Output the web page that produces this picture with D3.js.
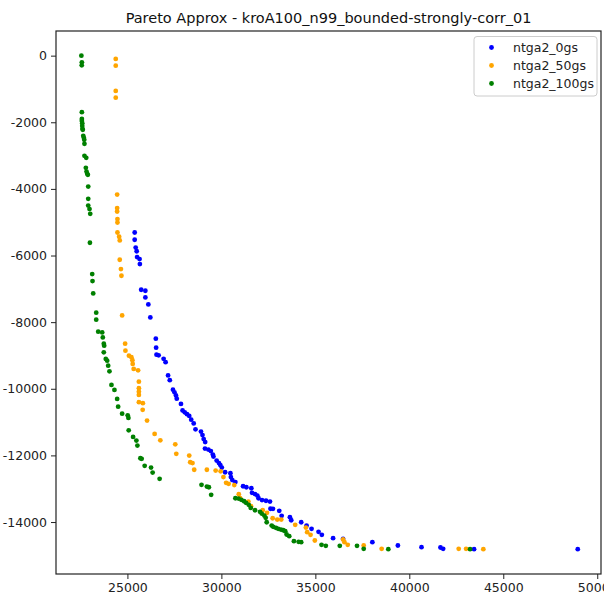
<!DOCTYPE html>
<html>
<head>
<meta charset="UTF-8">
<script src="https://cdn.jsdelivr.net/npm/d3@7"></script>
<style>
  body { margin: 0; background: #fff; }
  text { font-family: "DejaVu Sans", sans-serif; }
</style>
</head>
<body>
<div id="chart"></div>
<script>
// series values: [cost, -profit]
var seriesNames = ["ntga2_0gs", "ntga2_50gs", "ntga2_100gs"];
var seriesColors = ["#0000ff", "#ffa500", "#008000"];

var ntga2_0gs = [
  [25387,-5308],[25387,-5527],[25440,-5761],[25493,-5872],[25515,-6046],[25647,-6106],[25663,-6256],
  [25732,-7027],[25955,-7057],[25955,-7258],[26114,-7468],[26220,-7857],[26512,-8496],[26528,-8766],
  [26549,-8976],[26660,-8997],[26926,-9102],[27032,-9201],[27164,-9600],[27255,-9741],[27424,-10026],
  [27504,-10107],[27583,-10200],[27626,-10296],[27849,-10455],[27934,-10650],[28050,-10707],[28172,-10761],
  [28289,-10815],[28395,-10926],[28528,-11040],[28623,-11217],[28915,-11285],[28995,-11390],[29058,-11510],
  [29138,-11600],[29127,-11795],[29307,-11825],[29440,-11870],[29546,-11975],[29578,-12035],[29748,-12155],
  [29870,-12230],[29944,-12290],[30024,-12365],[30199,-12506],[30480,-12533],[30506,-12650],[30581,-12740],
  [30745,-12800],[31154,-12926],[31329,-12956],[31594,-12986],[31631,-13124],[31790,-13160],[31912,-13205],
  [31976,-13286],[32162,-13340],[32374,-13361],[32586,-13385],[32612,-13601],[32745,-13604],[33079,-13664],
  [33207,-13814],[33647,-13856],[33716,-13946],[34247,-14006],[34533,-14105],[34798,-14204],[35170,-14294],
  [35345,-14384],[35944,-14486],[36475,-14504],[38034,-14606],[39392,-14705],[40649,-14756],[41658,-14765],
  [41801,-14803],[43446,-14815],[48963,-14815]
];

var ntga2_50gs = [
  [24379,-99],[24379,-300],[24379,-1059],[24379,-1260],[24454,-4169],[24454,-4577],[24454,-4679],
  [24470,-4906],[24470,-5008],[24470,-5308],[24560,-5437],[24592,-5548],[24592,-6127],[24655,-6406],
  [24682,-6607],[24719,-7797],[24878,-8646],[24894,-8856],[25080,-9006],[25212,-9051],[25265,-9141],
  [25281,-9255],[25334,-9405],[25568,-9447],[25610,-9786],[25610,-9981],[25610,-10086],[25610,-10185],
  [25610,-10401],[25822,-10431],[25812,-10632],[26045,-10955],[26448,-11354],[26751,-11546],[27546,-11666],
  [27600,-11954],[28289,-12005],[28342,-12206],[28464,-12230],[28554,-12431],[29228,-12431],[29695,-12455],
  [29960,-12479],[30109,-12650],[30252,-12824],[30385,-12854],[30687,-12890],[30926,-13166],[30995,-13286],
  [31435,-13385],[31578,-13526],[32199,-13646],[32427,-13724],[32729,-13886],[32973,-13925],[33186,-13925],
  [33928,-14084],[34496,-14165],[34565,-14305],[34745,-14383],[34973,-14555],[36475,-14525],[36549,-14606],
  [36724,-14684],[37573,-14705],[38528,-14803],[42628,-14803],[43021,-14803],[43939,-14815]
];

var ntga2_100gs = [
  [22550,0],[22576,-200],[22570,-290],[22576,-1697],[22576,-1898],[22576,-1958],[22597,-2027],
  [22597,-2108],[22608,-2198],[22624,-2228],[22650,-2408],[22682,-2468],[22703,-2528],[22714,-2648],
  [22714,-3008],[22809,-3068],[22788,-3368],[22825,-3479],[22862,-3548],[22894,-3578],[22915,-3929],
  [22915,-4298],[22915,-4499],[22984,-4607],[23021,-4747],[23005,-5617],[23127,-6556],[23143,-6766],
  [23180,-7138],[23340,-7716],[23340,-7926],[23446,-8286],[23658,-8307],[23690,-8457],[23743,-8646],
  [23764,-8706],[23743,-8907],[23849,-9105],[23923,-9156],[23976,-9306],[24045,-9477],[24151,-9885],
  [24310,-10035],[24454,-10305],[24507,-10536],[24719,-10746],[25016,-10797],[25053,-10875],[25069,-11247],
  [25302,-11444],[25477,-11555],[25531,-11705],[25690,-12086],[25759,-12104],[25918,-12314],[26257,-12365],
  [26342,-12515],[26714,-12704],[28942,-12884],[29228,-12935],[29334,-12956],[29456,-13184],[30745,-13286],
  [30915,-13295],[31064,-13334],[31207,-13376],[31313,-13424],[31456,-13484],[31562,-13574],[31790,-13646],
  [32056,-13694],[32146,-13745],[32284,-13805],[32358,-13874],[32411,-14006],[32676,-14105],[32761,-14144],
  [32905,-14174],[33027,-14204],[33170,-14225],[33292,-14246],[33398,-14276],[33472,-14375],[33610,-14426],
  [33860,-14575],[34109,-14593],[34247,-14605],[35329,-14683],[35557,-14713],[36300,-14713],[37217,-14713],
  [37573,-14803],[38883,-14815],[43233,-14815]
];

var xTicks = [25000, 30000, 35000, 40000, 45000, 50000];
var yTicks = [0, -2000, -4000, -6000, -8000, -10000, -12000, -14000];
var title = "Pareto Approx - kroA100_n99_bounded-strongly-corr_01";

var width = 604, height = 597;
var plotLeft = 56, plotRight = 601, plotTop = 31, plotBottom = 574;

var svg = d3.select("#chart").append("svg")
  .attr("width", width)
  .attr("height", height);

var x = d3.scaleLinear().domain([21200, 50200]).range([plotLeft, plotRight]);
var y = d3.scaleLinear().domain([-15560, 740]).range([plotBottom, plotTop]);

// axes
svg.append("g")
  .attr("transform", "translate(0," + plotBottom + ")")
  .call(d3.axisBottom(x).tickValues(xTicks).tickSize(5).tickPadding(4).tickFormat(d3.format("d")))
  .call(g => g.select(".domain").remove())
  .selectAll("text").attr("font-size", 12.5).attr("fill", "#222");

svg.append("g")
  .attr("transform", "translate(" + plotLeft + ",0)")
  .call(d3.axisLeft(y).tickValues(yTicks).tickSize(5).tickPadding(4).tickFormat(d => d3.format("d")(d).replace("−", "-")))
  .call(g => g.select(".domain").remove())
  .selectAll("text").attr("font-size", 12.5).attr("fill", "#222");

svg.selectAll(".tick line").attr("stroke", "#222").attr("stroke-width", 1);

// frame
svg.append("rect")
  .attr("x", plotLeft).attr("y", plotTop)
  .attr("width", plotRight - plotLeft).attr("height", plotBottom - plotTop)
  .attr("fill", "none").attr("stroke", "#222").attr("stroke-width", 1.2);

// points
var all = [ntga2_0gs, ntga2_50gs, ntga2_100gs];
all.forEach(function(data, i) {
  svg.append("g").selectAll("circle")
    .data(data).enter().append("circle")
    .attr("cx", d => x(d[0]))
    .attr("cy", d => y(d[1]))
    .attr("r", 2.4)
    .attr("fill", seriesColors[i]);
});

// title
svg.append("text")
  .attr("x", (plotLeft + plotRight) / 2).attr("y", 23)
  .attr("text-anchor", "middle")
  .attr("font-size", 14.5)
  .attr("fill", "#111")
  .text(title);

// legend
var lg = svg.append("g");
lg.append("rect")
  .attr("x", 474).attr("y", 36.5).attr("width", 123).attr("height", 59.5).attr("rx", 3)
  .attr("fill", "#fff").attr("fill-opacity", 0.8).attr("stroke", "#ccc");
seriesNames.forEach(function(name, i) {
  var yy = 47.5 + i * 18;
  lg.append("circle").attr("cx", 491.5).attr("cy", yy).attr("r", 2.4).attr("fill", seriesColors[i]);
  lg.append("text").attr("x", 513).attr("y", yy + 4.5)
    .attr("font-size", 12.5).attr("fill", "#222").text(name);
});
</script>
</body>
</html>
